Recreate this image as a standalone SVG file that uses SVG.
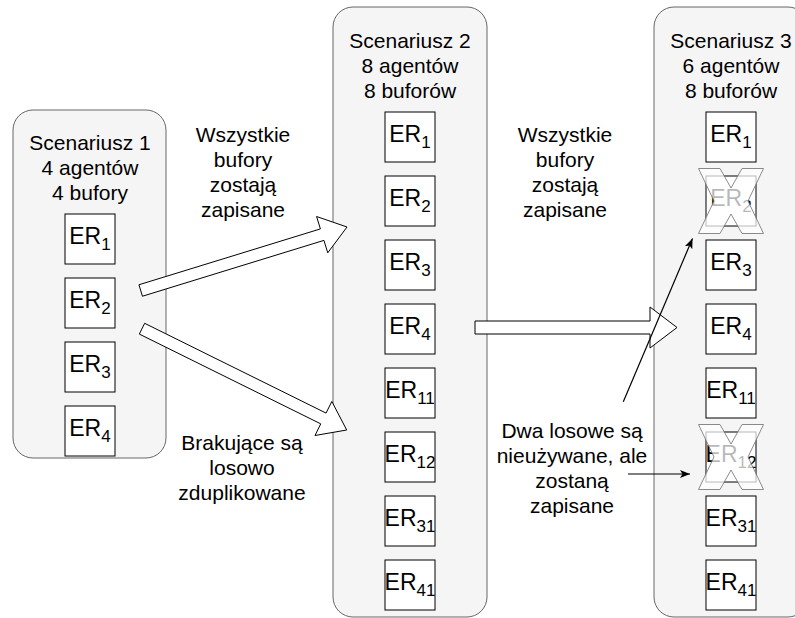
<svg xmlns="http://www.w3.org/2000/svg" xmlns:xlink="http://www.w3.org/1999/xlink" width="795" height="618" viewBox="0 0 795 618">
<style>
  text { font-family: "Liberation Sans", Arial, Helvetica, sans-serif; font-size: 21px; fill: #000; }
  .panel { fill: #f5f5f5; stroke: #666; stroke-width: 1; }
  .box { fill: #fff; stroke: #000; stroke-width: 1; }
  .er { font-size: 23px; text-anchor: middle; }
  .sub { font-size: 17px; }
  .lbl { text-anchor: middle; }
  .block { fill: #fff; stroke: #000; stroke-width: 1; }
  .thin { fill: none; stroke: #000; stroke-width: 1.2; marker-end: url(#ah); }
  .xmark { fill: #fff; fill-opacity: 0.72; stroke: #777; stroke-opacity: 0.85; stroke-width: 1; }
</style>
<defs>
  <marker id="ah" markerWidth="12" markerHeight="10" refX="10" refY="4" orient="auto" markerUnits="userSpaceOnUse">
    <path d="M0,0 L10,4 L0,8 L2.5,4 Z" fill="#000"/>
  </marker>
  <polygon id="xm" points="-32.5,-32.5 -11,-32.5 0,-13 11,-32.5 32.5,-32.5 17,0 32.5,32.5 11,32.5 0,13 -11,32.5 -32.5,32.5 -17,0"/>
</defs>

<!-- Scenario 1 -->
<g id="panel1">
  <rect class="panel" x="13" y="110" width="153" height="348" rx="20" ry="20"/>
  <text class="lbl" x="90" y="150">Scenariusz 1</text>
  <text class="lbl" x="90" y="175">4 agentów</text>
  <text class="lbl" x="90" y="200">4 bufory</text>
</g>
<g id="s1-er1"><rect class="box" x="65" y="214" width="50" height="50"/><text class="er" x="90" y="244">ER<tspan class="sub" dy="6">1</tspan></text></g>
<g id="s1-er2"><rect class="box" x="65" y="278" width="50" height="50"/><text class="er" x="90" y="308">ER<tspan class="sub" dy="6">2</tspan></text></g>
<g id="s1-er3"><rect class="box" x="65" y="342" width="50" height="50"/><text class="er" x="90" y="372">ER<tspan class="sub" dy="6">3</tspan></text></g>
<g id="s1-er4"><rect class="box" x="65" y="406" width="50" height="50"/><text class="er" x="90" y="436">ER<tspan class="sub" dy="6">4</tspan></text></g>

<!-- Scenario 2 -->
<g id="panel2">
  <rect class="panel" x="333" y="7" width="154" height="610" rx="20" ry="20"/>
  <text class="lbl" x="410" y="48">Scenariusz 2</text>
  <text class="lbl" x="410" y="73">8 agentów</text>
  <text class="lbl" x="410" y="98">8 buforów</text>
</g>
<g id="s2-er1"><rect class="box" x="385" y="112" width="50" height="50"/><text class="er" x="410" y="142">ER<tspan class="sub" dy="6">1</tspan></text></g>
<g id="s2-er2"><rect class="box" x="385" y="176" width="50" height="50"/><text class="er" x="410" y="206">ER<tspan class="sub" dy="6">2</tspan></text></g>
<g id="s2-er3"><rect class="box" x="385" y="240" width="50" height="50"/><text class="er" x="410" y="270">ER<tspan class="sub" dy="6">3</tspan></text></g>
<g id="s2-er4"><rect class="box" x="385" y="304" width="50" height="50"/><text class="er" x="410" y="334">ER<tspan class="sub" dy="6">4</tspan></text></g>
<g id="s2-er11"><rect class="box" x="385" y="368" width="50" height="50"/><text class="er" x="410" y="398">ER<tspan class="sub" dy="6">11</tspan></text></g>
<g id="s2-er12"><rect class="box" x="385" y="432" width="50" height="50"/><text class="er" x="410" y="462">ER<tspan class="sub" dy="6">12</tspan></text></g>
<g id="s2-er31"><rect class="box" x="385" y="496" width="50" height="50"/><text class="er" x="410" y="526">ER<tspan class="sub" dy="6">31</tspan></text></g>
<g id="s2-er41"><rect class="box" x="385" y="560" width="50" height="50"/><text class="er" x="410" y="590">ER<tspan class="sub" dy="6">41</tspan></text></g>

<!-- Scenario 3 -->
<g id="panel3">
  <rect class="panel" x="654" y="7" width="154" height="610" rx="20" ry="20"/>
  <text class="lbl" x="731" y="48">Scenariusz 3</text>
  <text class="lbl" x="731" y="73">6 agentów</text>
  <text class="lbl" x="731" y="98">8 buforów</text>
</g>
<g id="s3-er1"><rect class="box" x="706" y="112" width="50" height="50"/><text class="er" x="731" y="142">ER<tspan class="sub" dy="6">1</tspan></text></g>
<g id="s3-er2"><rect class="box" x="706" y="176" width="50" height="50"/><text class="er" x="731" y="206">ER<tspan class="sub" dy="6">2</tspan></text></g>
<g id="s3-er3"><rect class="box" x="706" y="240" width="50" height="50"/><text class="er" x="731" y="270">ER<tspan class="sub" dy="6">3</tspan></text></g>
<g id="s3-er4"><rect class="box" x="706" y="304" width="50" height="50"/><text class="er" x="731" y="334">ER<tspan class="sub" dy="6">4</tspan></text></g>
<g id="s3-er11"><rect class="box" x="706" y="368" width="50" height="50"/><text class="er" x="731" y="398">ER<tspan class="sub" dy="6">11</tspan></text></g>
<g id="s3-er12"><rect class="box" x="706" y="432" width="50" height="50"/><text class="er" x="731" y="462">ER<tspan class="sub" dy="6">12</tspan></text></g>
<g id="s3-er31"><rect class="box" x="706" y="496" width="50" height="50"/><text class="er" x="731" y="526">ER<tspan class="sub" dy="6">31</tspan></text></g>
<g id="s3-er41"><rect class="box" x="706" y="560" width="50" height="50"/><text class="er" x="731" y="590">ER<tspan class="sub" dy="6">41</tspan></text></g>

<g id="x-er2"><use xlink:href="#xm" href="#xm" class="xmark" transform="translate(731,201)"/></g>
<g id="x-er12"><use xlink:href="#xm" href="#xm" class="xmark" transform="translate(731,457)"/></g>

<!-- Labels -->
<g id="label-top-left">
  <text class="lbl" x="243" y="142">Wszystkie</text>
  <text class="lbl" x="243" y="167">bufory</text>
  <text class="lbl" x="243" y="192">zostają</text>
  <text class="lbl" x="243" y="217">zapisane</text>
</g>
<g id="label-top-right">
  <text class="lbl" x="565" y="142">Wszystkie</text>
  <text class="lbl" x="565" y="167">bufory</text>
  <text class="lbl" x="565" y="192">zostają</text>
  <text class="lbl" x="565" y="217">zapisane</text>
</g>
<g id="label-bottom-left">
  <text class="lbl" x="242" y="450">Brakujące są</text>
  <text class="lbl" x="242" y="475">losowo</text>
  <text class="lbl" x="242" y="500">zduplikowane</text>
</g>
<g id="label-bottom-right">
  <text class="lbl" x="572" y="438">Dwa losowe są</text>
  <text class="lbl" x="572" y="463">nieużywane, ale</text>
  <text class="lbl" x="572" y="488">zostaną</text>
  <text class="lbl" x="572" y="513">zapisane</text>
</g>

<!-- Connectors -->
<g id="connectors">
  <polygon class="block" points="142.46,296.23 323.92,240.38 327.75,252.80 347,227 316.57,216.50 320.40,228.92 138.94,284.77"/>
  <polygon class="block" points="139.34,334.08 320.74,423.85 314.97,435.50 346.7,430 331.83,401.44 326.06,413.09 144.66,323.32"/>
  <polygon class="block" points="475,321 650,321 650,307 677,327.5 650,348 650,334 475,334"/>
  <line class="thin" x1="623.3" y1="401.7" x2="692.5" y2="238.5"/>
  <line class="thin" x1="628" y1="474" x2="690" y2="474"/>
</g>
</svg>
